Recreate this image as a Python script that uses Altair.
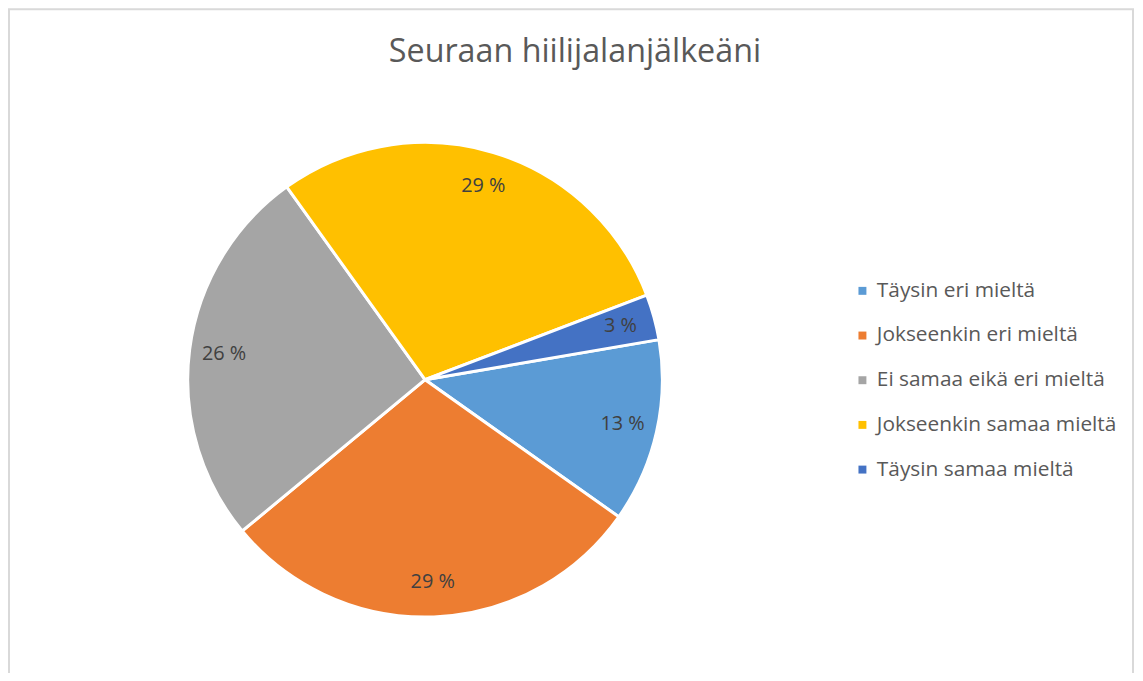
import altair as alt
import pandas as pd
import math

categories = ["Täysin eri mieltä", "Jokseenkin eri mieltä", "Ei samaa eikä eri mieltä",
              "Jokseenkin samaa mieltä", "Täysin samaa mieltä"]
values = [12.5, 29.2, 26.1, 29.1, 3.1]
labels = ["13 %", "29 %", "26 %", "29 %", "3 %"]
colors = ["#5B9BD5", "#ED7D31", "#A5A5A5", "#FFC000", "#4472C4"]
title_text = "Seuraan hiilijalanjälkeäni"

df = pd.DataFrame({"cat": categories, "val": values, "lab": labels, "ord": list(range(len(categories)))})

start = 1.401
W, H = 1135, 665
cx, cy = 420, 372

theta = alt.Theta("val:Q", stack=True, scale=alt.Scale(range=[start, start + 2 * math.pi]))
color = alt.Color("cat:N", sort=categories,
                  scale=alt.Scale(domain=categories, range=colors),
                  legend=alt.Legend(title=None, orient="none", legendX=850, legendY=272,
                                    symbolType="square", symbolSize=64, symbolStrokeWidth=0,
                                    labelFontSize=21, labelFont="Open Sans", labelColor="#595959",
                                    labelOffset=4, rowPadding=23, labelLimit=400))

base = alt.Chart(df).encode(theta=theta, order=alt.Order("ord:Q"),
                            x=alt.value(cx), y=alt.value(cy))

pie = base.mark_arc(outerRadius=239, stroke="white", strokeWidth=3).encode(color=color)
text = base.mark_text(radius=204, font="Open Sans", fontSize=20, color="#404040").encode(text="lab:N")

title = alt.Chart(pd.DataFrame({"t": [title_text]})).mark_text(
    font="Open Sans", fontSize=32.5, color="#595959", baseline="middle", align="center"
).encode(text="t:N", x=alt.value(571), y=alt.value(42))

frame_df = pd.DataFrame({"k": [0]})
fr = alt.Chart(frame_df)
frame = fr.mark_rect(fill="transparent", stroke="#D9D9D9", strokeWidth=2).encode(
    x=alt.value(1), x2=alt.value(1133), y=alt.value(-1), y2=alt.value(H + 40))

chart = alt.layer(frame, pie, text, title).properties(
    width=W, height=H, padding=0, background="white",
    autosize=alt.AutoSizeParams(type="none")
).configure_view(strokeWidth=0, stroke="transparent")

chart.save("out.html", embed_options={"renderer": "svg", "actions": False})
